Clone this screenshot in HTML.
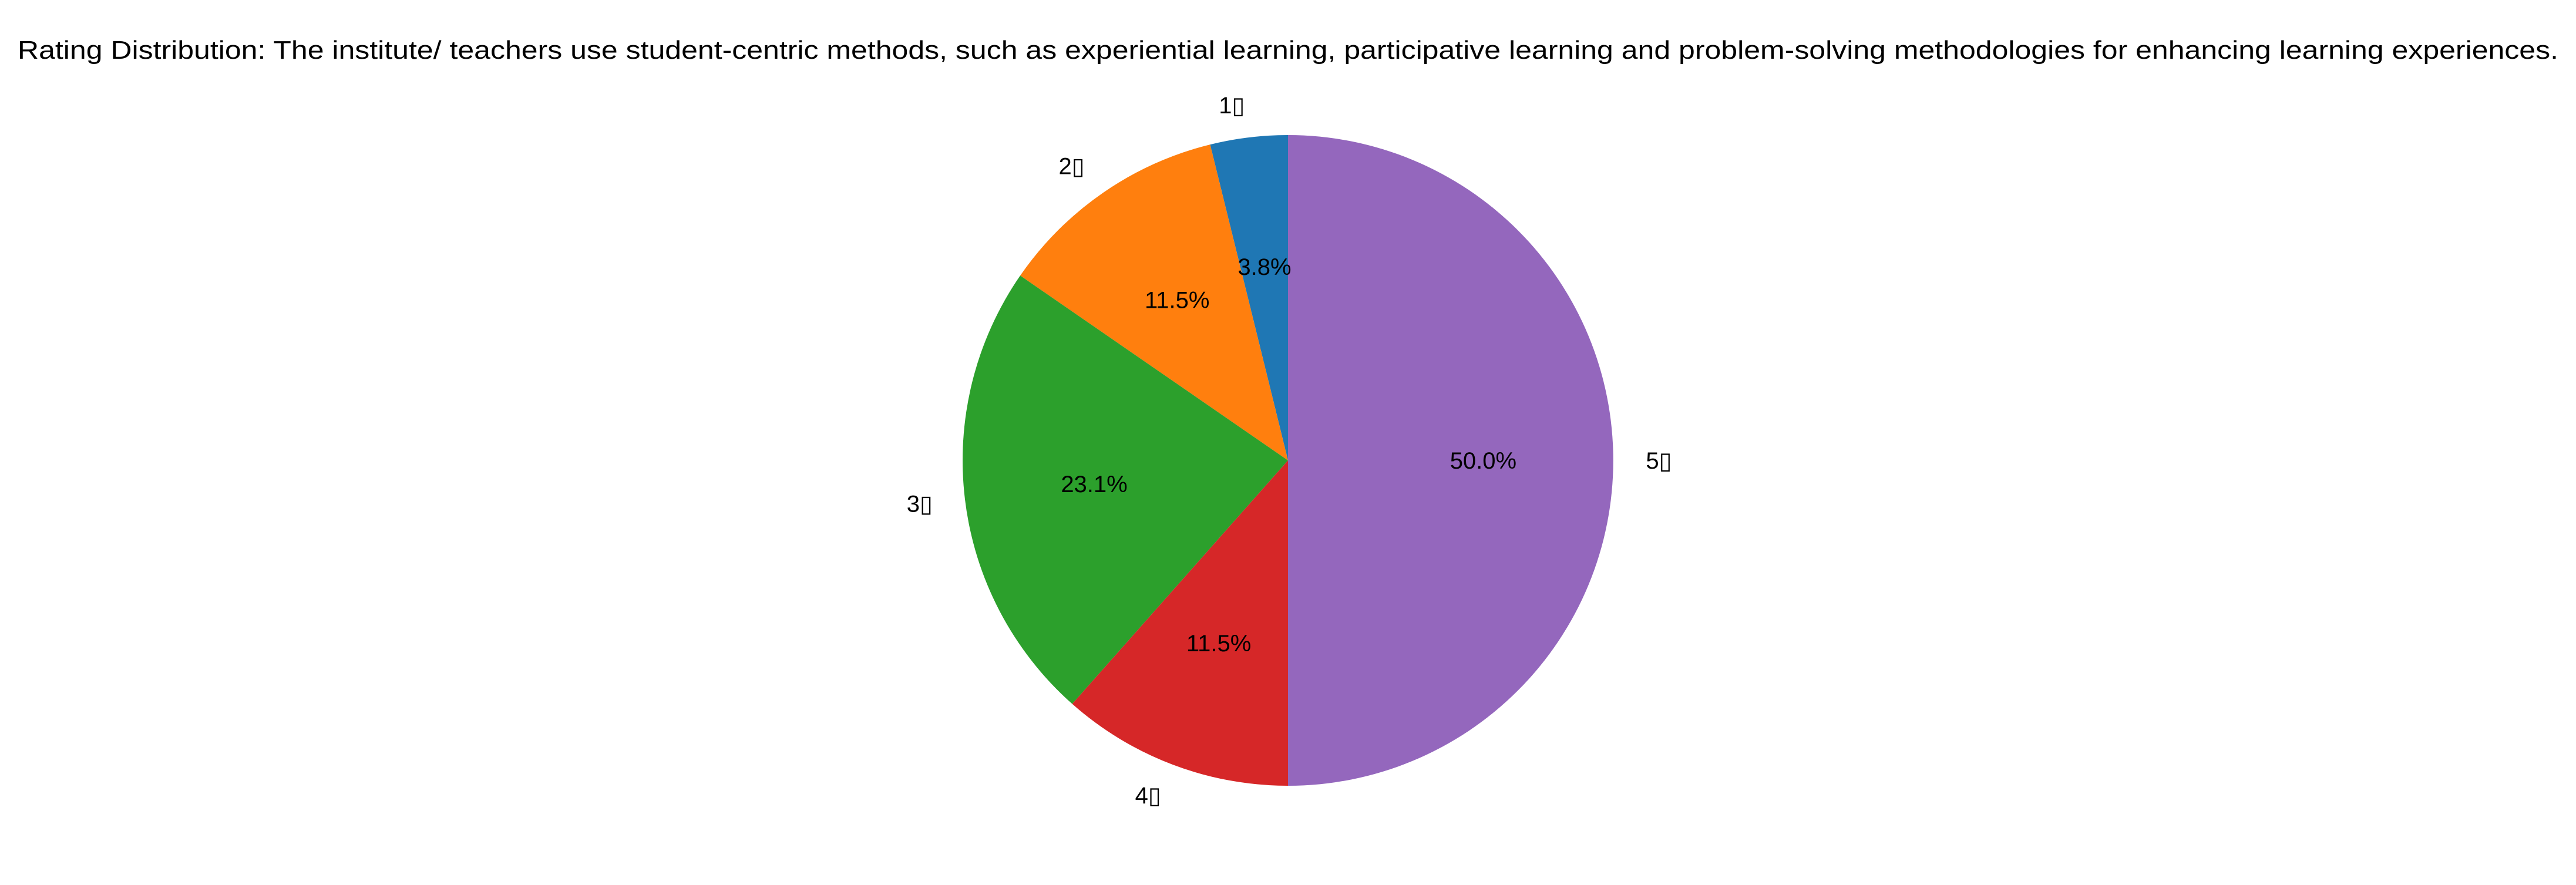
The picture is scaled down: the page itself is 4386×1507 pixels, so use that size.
<!DOCTYPE html>
<html><head><meta charset="utf-8"><style>
html,body{margin:0;padding:0;background:#fff;}
svg{display:block;font-family:"Liberation Sans","DejaVu Sans",sans-serif;}
</style></head><body>
<svg id="chart" width="4386" height="1507" viewBox="0 0 4386 1507" xmlns="http://www.w3.org/2000/svg">
<rect width="4386" height="1507" fill="#fff"/>
<text x="2193" y="100" text-anchor="middle" font-size="44" textLength="4326" lengthAdjust="spacingAndGlyphs" fill="#000">Rating Distribution: The institute/ teachers use student-centric methods, such as experiential learning, participative learning and problem-solving methodologies for enhancing learning experiences.</text>
<g id="slices"></g>
<g id="labels"></g>
</svg>
<script>
const categories = ["1▯","2▯","3▯","4▯","5▯"];
const counts = [1,3,6,3,13];
const colors = ["#1f77b4","#ff7f0e","#2ca02c","#d62728","#9467bd"];
const cx = 2193, cy = 784, r = 554;
const NS = "http://www.w3.org/2000/svg";
const total = counts.reduce((a,b)=>a+b,0);
const gS = document.getElementById('slices'), gL = document.getElementById('labels');
let start = 90;
function pt(deg, rad){ const a = deg*Math.PI/180; return [cx + rad*Math.cos(a), cy - rad*Math.sin(a)]; }
counts.forEach((v,i)=>{
  const sweep = v/total*360, end = start+sweep;
  const p1 = pt(start,r), p2 = pt(end,r);
  const large = sweep>180?1:0;
  const path = document.createElementNS(NS,'path');
  path.setAttribute('d',`M${cx},${cy} L${p1[0]},${p1[1]} A${r},${r} 0 ${large} 0 ${p2[0]},${p2[1]} Z`);
  path.setAttribute('fill',colors[i]);
  
  
  gS.appendChild(path);
  const mid = start+sweep/2;
  const lp = pt(mid, r*1.1);
  const t = document.createElementNS(NS,'text');
  t.setAttribute('x',lp[0]); t.setAttribute('y',lp[1]+14);
  t.setAttribute('font-size','40');
  t.setAttribute('text-anchor', lp[0]>=cx ? 'start':'end');
  t.textContent = categories[i];
  
  
  gL.appendChild(t);
  const pp = pt(mid, r*0.6);
  const t2 = document.createElementNS(NS,'text');
  t2.setAttribute('x',pp[0]); t2.setAttribute('y',pp[1]+14);
  t2.setAttribute('font-size','40');
  t2.setAttribute('text-anchor','middle');
  t2.textContent = (v/total*100).toFixed(1)+'%';
  
  
  gL.appendChild(t2);
  start = end;
});
</script>
</body></html>
